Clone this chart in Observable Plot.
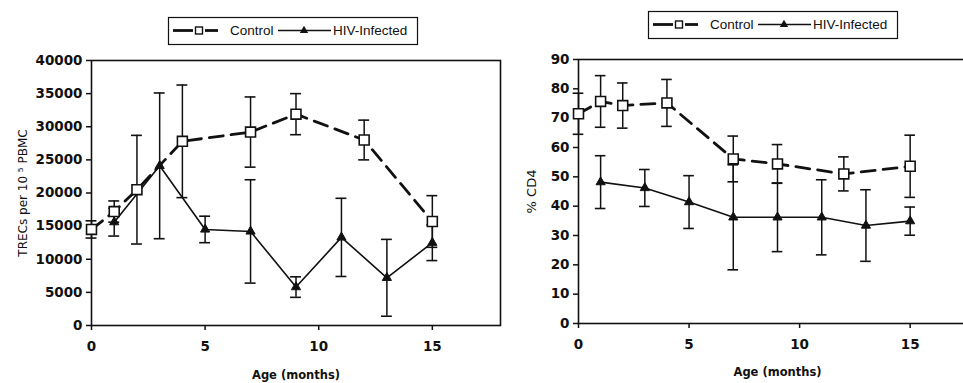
<!DOCTYPE html>
<html>
<head>
<meta charset="utf-8">
<script src="https://cdn.jsdelivr.net/npm/d3@7"></script>
<script src="https://cdn.jsdelivr.net/npm/@observablehq/plot@0.6"></script>
<style>
  html, body { margin: 0; padding: 0; background: #fff; overflow: hidden; }
  #chart { position: relative; width: 963px; height: 383px; overflow: hidden; }
  #chart svg { position: absolute; }
</style>
</head>
<body>
<div id="chart"></div>
<script>
// Ages (months) at which each group was sampled
const ageControl = [0, 1, 2, 4, 7, 9, 12, 15];
const ageHiv = [1, 3, 5, 7, 9, 11, 13, 15];

// TRECs per 10^5 PBMC: means and error-bar half widths
const trecControl = [14500, 17200, 20500, 27800, 29200, 31900, 28000, 15700];
const trecControlErr = [1300, 1600, 8200, 8500, 5300, 3100, 3000, 3900];
const trecHiv = [15600, 24100, 14500, 14200, 5800, 13300, 7200, 12500];
const trecHivErr = [2100, 11000, 2000, 7800, 1550, 5900, 5800, 2700];

// % CD4: means and error-bar half widths
const cd4Control = [71.5, 75.7, 74.3, 75.2, 56.1, 54.4, 51.0, 53.6];
const cd4ControlErr = [7.0, 8.8, 7.7, 8.0, 7.8, 6.6, 5.8, 10.6];
const cd4Hiv = [48.2, 46.2, 41.4, 36.2, 36.2, 36.2, 33.4, 34.9];
const cd4HivErr = [9.0, 6.3, 9.0, 17.9, 11.7, 12.8, 12.2, 4.8];

// Axis ticks and labels
const xTicks = [0, 5, 10, 15];
const trecTicks = [0, 5000, 10000, 15000, 20000, 25000, 30000, 35000, 40000];
const cd4Ticks = [0, 10, 20, 30, 40, 50, 60, 70, 80, 90];
const xLabel = "Age (months)";
const trecLabel = "TRECs per 10 \u2075 PBMC";
const cd4Label = "% CD4";
const seriesNames = ["Control", "HIV-Infected"];

const ink = "#111";
const font = "DejaVu Sans, sans-serif";
const capHalf = 0.24; // error-bar cap half width, in months

const rows = (ages, vals, errs) => ages.map((a, i) => ({age: a, v: vals[i], e: errs[i]}));

function errorBars(data) {
  return [
    Plot.ruleX(data, {x: "age", y1: d => d.v - d.e, y2: d => d.v + d.e, stroke: ink, strokeWidth: 1.5}),
    Plot.ruleY(data, {y: d => d.v + d.e, x1: d => d.age - capHalf, x2: d => d.age + capHalf, stroke: ink, strokeWidth: 1.6}),
    Plot.ruleY(data, {y: d => d.v - d.e, x1: d => d.age - capHalf, x2: d => d.age + capHalf, stroke: ink, strokeWidth: 1.6})
  ];
}

function panel({control, hiv, yDomain, yTicks, yLabel, yLabelSize, yLabelOffset, width, marginLeft, marginRight, marginTop, marginBottom, xLabelOffset}) {
  return Plot.plot({
    width,
    height: 383,
    marginLeft, marginRight, marginTop, marginBottom,
    style: {fontFamily: font, color: ink, background: "transparent", overflow: "visible"},
    x: {domain: [0, 18]},
    y: {domain: yDomain},
    marks: [
      Plot.frame({stroke: ink, strokeWidth: 1.6}),
      Plot.axisX({ticks: xTicks, tickFormat: d => String(d), tickSize: 5, tickPadding: 11, label: null,
        stroke: ink, strokeWidth: 1.5, fill: ink, fontSize: 13.5, fontWeight: "bold", fontFamily: font}),
      Plot.axisY({ticks: yTicks, tickFormat: d => String(d), tickSize: 5, tickPadding: 4, label: null,
        stroke: ink, strokeWidth: 1.5, fill: ink, fontSize: 13.5, fontWeight: "bold", fontFamily: font}),
      ...errorBars(hiv),
      ...errorBars(control),
      Plot.line(hiv, {x: "age", y: "v", stroke: ink, strokeWidth: 1.6}),
      Plot.line(control, {x: "age", y: "v", stroke: ink, strokeWidth: 2.8, strokeDasharray: "14,8"}),
      Plot.dot(hiv, {x: "age", y: "v", symbol: "triangle", r: 3.4, fill: ink, stroke: ink, strokeWidth: 1}),
      Plot.dot(control, {x: "age", y: "v", symbol: "square", r: 5.6, fill: "white", stroke: ink, strokeWidth: 1.6}),
      Plot.text([yLabel], {text: d => d, frameAnchor: "left", dx: -yLabelOffset, rotate: -90,
        textAnchor: "middle", lineAnchor: "middle", fontSize: yLabelSize, fontFamily: font, fill: ink}),
      Plot.text([xLabel], {text: d => d, frameAnchor: "bottom", dy: xLabelOffset,
        textAnchor: "middle", lineAnchor: "middle", fontSize: 11.5, fontWeight: "bold", fontFamily: font, fill: ink})
    ]
  });
}

const chart = document.getElementById("chart");

const left = panel({
  control: rows(ageControl, trecControl, trecControlErr),
  hiv: rows(ageHiv, trecHiv, trecHivErr),
  yDomain: [0, 40000], yTicks: trecTicks, yLabel: trecLabel, yLabelSize: 12, yLabelOffset: 68,
  width: 510, marginLeft: 91, marginRight: 10, marginTop: 60, marginBottom: 58, xLabelOffset: 50
});
left.style.left = "0px";
left.style.top = "0px";
chart.appendChild(left);

const right = panel({
  control: rows(ageControl, cd4Control, cd4ControlErr),
  hiv: rows(ageHiv, cd4Hiv, cd4HivErr),
  yDomain: [0, 90], yTicks: cd4Ticks, yLabel: cd4Label, yLabelSize: 13, yLabelOffset: 47,
  width: 500, marginLeft: 98, marginRight: 4, marginTop: 59, marginBottom: 60, xLabelOffset: 49
});
right.style.left = "480px";
right.style.top = "0px";
chart.appendChild(right);

// Series key drawn above each panel
const keySvg = d3.select(chart).append("svg")
  .attr("width", 963).attr("height", 383)
  .style("left", "0px").style("top", "0px")
  .style("pointer-events", "none");

function drawKey(x0, y0) {
  const g = keySvg.append("g").attr("transform", `translate(${x0},${y0})`);
  const h = 27, cy = h / 2;
  g.append("rect").attr("x", 0.5).attr("y", 0.5).attr("width", 249).attr("height", h)
    .attr("fill", "white").attr("stroke", ink).attr("stroke-width", 1.2);
  // Control sample: thick dashes either side of an open square
  g.append("line").attr("x1", 5).attr("x2", 25).attr("y1", cy).attr("y2", cy).attr("stroke", ink).attr("stroke-width", 2.8);
  g.append("line").attr("x1", 37).attr("x2", 50).attr("y1", cy).attr("y2", cy).attr("stroke", ink).attr("stroke-width", 2.8);
  g.append("rect").attr("x", 27.5).attr("y", cy - 3.5).attr("width", 7).attr("height", 7)
    .attr("fill", "white").attr("stroke", ink).attr("stroke-width", 1.4);
  g.append("text").attr("x", 62).attr("y", cy).attr("dy", "0.36em")
    .attr("font-family", "Liberation Sans, Arial, sans-serif").attr("font-size", 13.5).attr("fill", ink)
    .text(seriesNames[0]);
  // HIV-infected sample: thin line with a filled triangle
  g.append("line").attr("x1", 110).attr("x2", 163).attr("y1", cy).attr("y2", cy).attr("stroke", ink).attr("stroke-width", 1.4);
  g.append("path").attr("transform", `translate(136,${cy})`)
    .attr("d", d3.symbol(d3.symbolTriangle, 30)()).attr("fill", ink);
  g.append("text").attr("x", 165).attr("y", cy).attr("dy", "0.36em")
    .attr("font-family", "Liberation Sans, Arial, sans-serif").attr("font-size", 13.5).attr("fill", ink)
    .text(seriesNames[1]);
}
drawKey(168, 17);
drawKey(648, 11);
</script>
</body>
</html>
